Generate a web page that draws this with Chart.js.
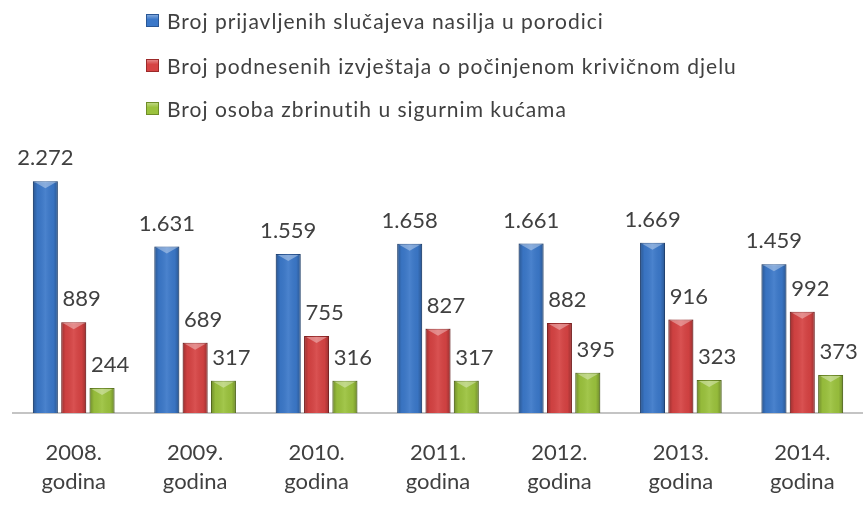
<!DOCTYPE html>
<html>
<head>
<meta charset="utf-8">
<title>Nasilje u porodici</title>
<script src="https://cdn.jsdelivr.net/npm/chart.js@4.4.0/dist/chart.umd.min.js"></script>
<style>
	html, body { margin: 0; padding: 0; background: #fff; }
	#wrap { position: relative; width: 863px; height: 517px; }
	#legend { position: absolute; left: 146px; top: 0; font-family: Lato, "Open Sans", sans-serif; font-size: 21px; letter-spacing: 1px; color: #404040; }
	.item { position: absolute; left: 0; height: 24px; display: flex; align-items: center; white-space: nowrap; }
	.sw { width: 13px; height: 13px; margin-right: 8px; box-sizing: border-box; }
</style>
</head>
<body>
<div id="wrap">
	<canvas id="myChart" width="863" height="517"></canvas>
	<div id="legend"></div>
</div>
<script>
	// podaci
	const categories = [['2008.', 'godina'], ['2009.', 'godina'], ['2010.', 'godina'], ['2011.', 'godina'], ['2012.', 'godina'], ['2013.', 'godina'], ['2014.', 'godina']];
	const prijave = [2272, 1631, 1559, 1658, 1661, 1669, 1459];
	const izvjestaji = [889, 689, 755, 827, 882, 916, 992];
	const zbrinuti = [244, 317, 316, 317, 395, 323, 373];
	const seriesNames = [
		'Broj prijavljenih slučajeva nasilja u porodici',
		'Broj podnesenih izvještaja o počinjenom krivičnom djelu',
		'Broj osoba zbrinutih u sigurnim kućama'
	];
	const seriesColors = ['#3b78c9', '#d64343', '#9bc23d'];
	const edgeColors = ['#2a5796', '#9c2a2a', '#6f8d28'];
	const labelShift = [0, 8, 8];

	function fmt (v) {
		return String(v).replace(/\B(?=(\d{3})+(?!\d))/g, '.');
	}

	// sjencanje stupaca (3D izgled)
	const shading = {
		id: 'shading',
		afterDatasetsDraw (chart) {
			const ctx = chart.ctx;
			chart.data.datasets.forEach((ds, i) => {
				chart.getDatasetMeta(i).data.forEach(bar => {
					const l = bar.x - bar.width / 2, r = bar.x + bar.width / 2;
					const t = bar.y, b = bar.base;
					const g = ctx.createLinearGradient(l, 0, r, 0);
					g.addColorStop(0, 'rgba(0,0,0,0.28)');
					g.addColorStop(0.18, 'rgba(0,0,0,0.04)');
					g.addColorStop(0.5, 'rgba(255,255,255,0.08)');
					g.addColorStop(0.82, 'rgba(0,0,0,0.04)');
					g.addColorStop(1, 'rgba(0,0,0,0.28)');
					ctx.save();
					ctx.fillStyle = g;
					ctx.fillRect(l, t, r - l, b - t);
					ctx.fillStyle = 'rgba(255,255,255,0.35)';
					ctx.beginPath();
					ctx.moveTo(l + 2, t + 1);
					ctx.lineTo(r - 2, t + 1);
					ctx.lineTo(bar.x, t + 7);
					ctx.closePath();
					ctx.fill();
					ctx.restore();
				});
			});
		}
	};

	// vrijednosti iznad stupaca
	const valueLabels = {
		id: 'valueLabels',
		afterDatasetsDraw (chart) {
			const ctx = chart.ctx;
			ctx.save();
			ctx.font = '22px Lato, "Open Sans", sans-serif';
			ctx.fillStyle = '#404040';
			ctx.textAlign = 'center';
			ctx.textBaseline = 'alphabetic';
			chart.data.datasets.forEach((ds, i) => {
				chart.getDatasetMeta(i).data.forEach((bar, j) => {
					ctx.fillText(fmt(ds.data[j]), bar.x + labelShift[i], bar.y - 16);
				});
			});
			ctx.restore();
		}
	};

	const datasets = [prijave, izvjestaji, zbrinuti].map((d, i) => ({
		label: seriesNames[i],
		data: d,
		backgroundColor: seriesColors[i],
		borderColor: edgeColors[i],
		borderWidth: 1,
		categoryPercentage: 0.70,
		barPercentage: 0.88
	}));

	const ctx = document.getElementById('myChart').getContext('2d');
	const chart = new Chart(ctx, {
		type: 'bar',
		data: { labels: categories, datasets: datasets },
		options: {
			responsive: false,
			animation: false,
			devicePixelRatio: 1,
			layout: { padding: { top: 159, left: 13, right: 0, bottom: 0 } },
			plugins: { legend: { display: false }, tooltip: { enabled: false } },
			scales: {
				x: {
					grid: { display: false, drawTicks: false },
					border: { display: true, color: '#c4c4c4', width: 2 },
					ticks: {
						color: '#404040',
						font: { family: 'Lato, "Open Sans", sans-serif', size: 22, lineHeight: 1.32 },
						padding: 25,
						autoSkip: false,
						maxRotation: 0
					},
					afterFit (scale) { scale.height = 104; }
				},
				y: { display: false, min: 0, max: 2490 }
			}
		},
		plugins: [shading, valueLabels]
	});

	// legenda
	const legend = document.getElementById('legend');
	const tops = [8, 53, 96];
	chart.data.datasets.forEach((ds, i) => {
		const item = document.createElement('div');
		item.className = 'item';
		item.style.top = tops[i] + 'px';
		const sw = document.createElement('span');
		sw.className = 'sw';
		sw.style.background = 'linear-gradient(to bottom, rgba(255,255,255,0.35), rgba(255,255,255,0) 40%), ' + ds.backgroundColor;
		sw.style.border = '1px solid ' + ds.borderColor;
		const txt = document.createElement('span');
		txt.textContent = ds.label;
		item.appendChild(sw);
		item.appendChild(txt);
		legend.appendChild(item);
	});
</script>
</body>
</html>
